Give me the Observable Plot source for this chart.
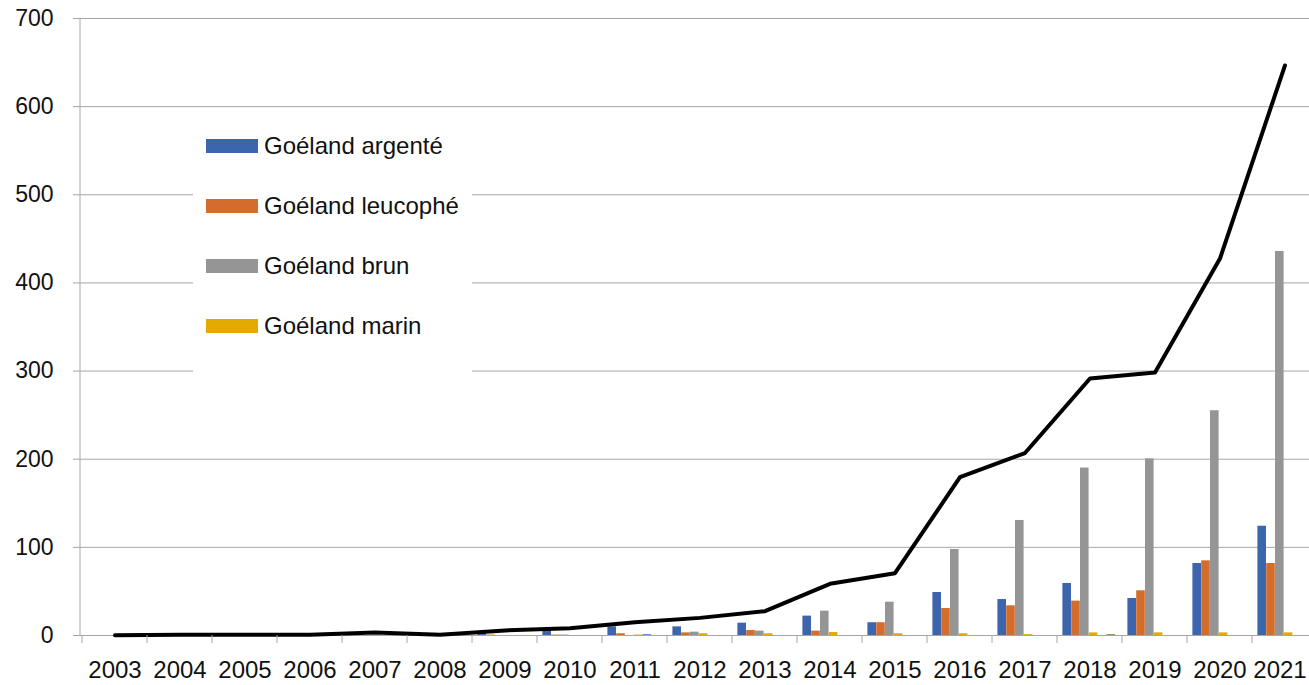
<!DOCTYPE html>
<html>
<head>
<meta charset="utf-8">
<script src="https://cdn.jsdelivr.net/npm/d3@7"></script>
<script src="https://cdn.jsdelivr.net/npm/@observablehq/plot@0.6"></script>
<style>
  html, body { margin: 0; padding: 0; background: #fff; overflow: hidden; }
  #wrap { position: relative; width: 1309px; height: 685px; overflow: hidden; }
  #chart { position: absolute; left: 0; top: 0; width: 1324px; }
  #chart svg { max-width: none !important; width: 1324px; height: 685px; }
  #legend { position: absolute; left: 193px; top: 116px; width: 279px; height: 258px; background: #fff;
            font-family: "Liberation Sans", Arial, sans-serif; font-size: 24px; color: #111; }
  .item { position: absolute; left: 13px; height: 24px; display: flex; align-items: center; white-space: nowrap; }
  .sw { width: 52px; height: 14px; margin-right: 6px; }
</style>
</head>
<body>
<div id="wrap"><div id="chart"></div><div id="legend"></div></div>
<script>
const years = ["2003","2004","2005","2006","2007","2008","2009","2010","2011","2012","2013","2014","2015","2016","2017","2018","2019","2020","2021"];
const argente  = [0,0,0,0,0,0,2.6,5.7,9.8,9.8,14,22,14.5,48.8,40.8,59,42,81.7,124];
const leucophe = [0,0,0,0,0,0,0.5,0.5,2,3,5.7,5,14.5,30.6,33.7,39,50.7,84.7,81.7];
const brun     = [0,0,0,0,0,0,0,0.5,0,3.8,5,27.6,37.8,97.6,130.5,190,200.4,255,435.7];
const marin    = [0,0,0,0,0,0,0,0,0.5,2,2,3.4,2,2,1,3,3,3,3];
const autreA   = [0,0,0,0,0,0,0,0,1,0,0,0,0,0,0,0,0,0,0];
const autreB   = [0,0,0,0,0,0,0,0,0,0,0,0,0,0,0,1,0,0,0];
const total    = [0.3,0.8,0.8,0.8,3.4,0.8,5.7,8.3,15,20,27.6,58.6,70.7,179.6,207,291.6,298.4,427.7,646.7];
const yTicks = [0,100,200,300,400,500,600,700];

const seriesNames = ["Goéland argenté","Goéland leucophé","Goéland brun","Goéland marin","autreA","autreB"];
const seriesValues = [argente, leucophe, brun, marin, autreA, autreB];
const seriesColors = ["#3d65ae","#d46d2b","#959595","#e3ab00","#4f88c4","#65a03f"];
const inLegend = [true,true,true,true,false,false];

const gridColor = "#a6a6a6";
const W = 1324, H = 685, mL = 80, mR = 5, mT = 18, mB = 50;
const bandW = (W - mL - mR) / years.length;
const barW = 8.8, pad = 5.4;

const barMarks = seriesValues.map((vals, i) =>
  Plot.barY(years.map((y, j) => ({year: y, v: vals[j]})), {
    x: "year", y: "v", fill: seriesColors[i],
    insetLeft: pad + i * barW,
    insetRight: bandW - pad - (i + 1) * barW
  })
);

const frameMark = (index, scales, values, dims) => {
  const g = d3.create("svg:g");
  const y0 = scales.y(0), y1 = scales.y(700);
  g.append("line").attr("x1", dims.marginLeft).attr("x2", dims.marginLeft)
    .attr("y1", y1).attr("y2", y0).attr("stroke", gridColor).attr("stroke-width", 1);
  years.forEach(yr => {
    const x = scales.x(yr);
    g.append("line").attr("x1", x).attr("x2", x).attr("y1", y0).attr("y2", y0 + 8)
      .attr("stroke", gridColor).attr("stroke-width", 1);
  });
  return g.node();
};

const chart = Plot.plot({
  width: W, height: H,
  marginLeft: mL, marginRight: mR, marginTop: mT, marginBottom: mB,
  style: {fontFamily: "'Liberation Sans', Arial, sans-serif", fontSize: "24px", color: "#111", background: "#fff", maxWidth: "none"},
  x: {type: "band", domain: years, paddingInner: 0, paddingOuter: 0, label: null},
  y: {domain: [0, 700], label: null},
  marks: [
    Plot.gridY(yTicks, {stroke: gridColor, strokeOpacity: 1, strokeWidth: 1}),
    ...barMarks,
    Plot.line(years.map((y, j) => ({year: y, v: total[j]})), {
      x: "year", y: "v", stroke: "#000", strokeWidth: 4, strokeLinejoin: "round", strokeLinecap: "round"
    }),
    frameMark,
    Plot.axisY(yTicks, {tickSize: 7, tickPadding: 20, stroke: gridColor, fill: "#111", fontSize: 23, label: null}),
    Plot.axisX(years.slice(0, -1), {tickSize: 0, tickPadding: 25, fill: "#111", fontSize: 24, label: null}),
    Plot.axisX(years.slice(-1), {tickSize: 0, tickPadding: 25, fill: "#111", fontSize: 24, dx: -5, label: null})
  ]
});
document.getElementById("chart").appendChild(chart);

const legend = document.getElementById("legend");
let k = 0;
seriesNames.forEach((name, i) => {
  if (!inLegend[i]) return;
  const item = document.createElement("div");
  item.className = "item";
  item.style.top = (18 + k * 60) + "px";
  const sw = document.createElement("div");
  sw.className = "sw"; sw.style.background = seriesColors[i];
  const t = document.createElement("span");
  t.textContent = name;
  item.appendChild(sw); item.appendChild(t);
  legend.appendChild(item);
  k++;
});
</script>
</body>
</html>
